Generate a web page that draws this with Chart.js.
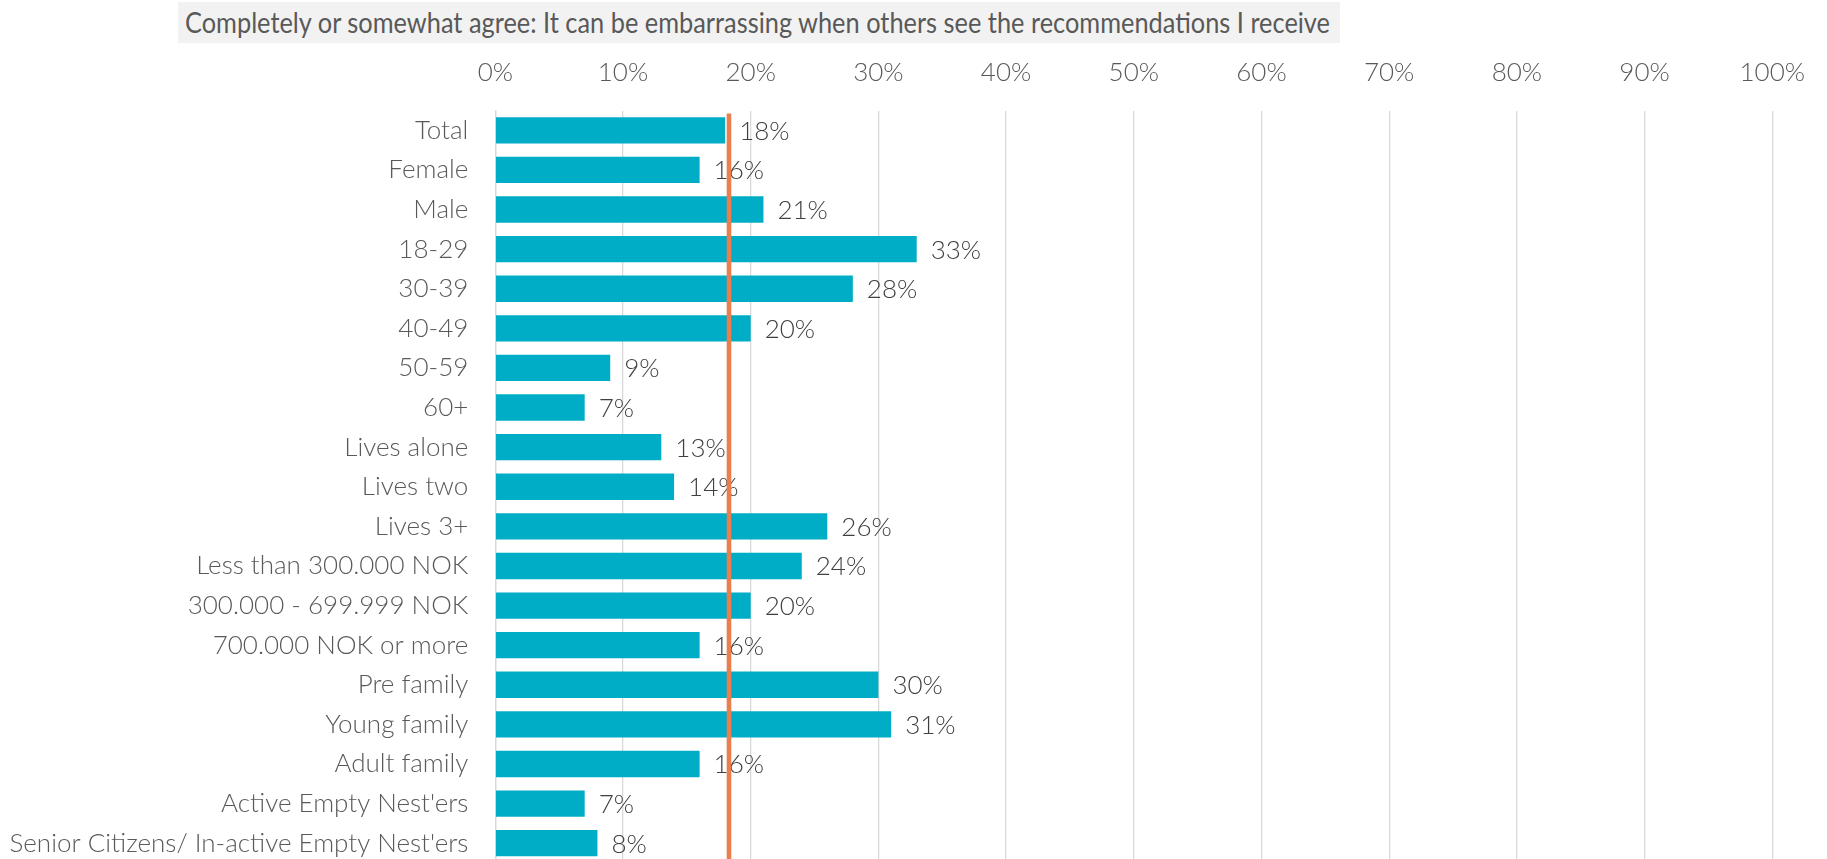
<!DOCTYPE html>
<html>
<head>
<meta charset="utf-8">
<script src="https://cdn.jsdelivr.net/npm/chart.js@4.4.0/dist/chart.umd.min.js"></script>
<style>
  html, body { margin: 0; padding: 0; background: #fff; overflow: hidden; }
  #wrap { position: relative; width: 1827px; height: 863px; }
  #title {
    position: absolute; left: 178px; top: 2px; width: 1162px; height: 41px;
    background: #F2F2F2;
  }
  #title span {
    position: absolute; left: 7px; top: 0; line-height: 41px;
    font-family: Lato, "Open Sans", sans-serif; font-size: 28px; color: #595959;
    white-space: nowrap; transform-origin: left center;
  }
</style>
</head>
<body>
<div id="wrap">
  <canvas id="agreeChart" width="1827" height="863"></canvas>
  <div id="title"><span id="titleText">Completely or somewhat agree: It can be embarrassing when others see the recommendations I receive</span></div>
</div>
<script>
// Segments, top to bottom
const categories = [
  'Total', 'Female', 'Male', '18-29', '30-39', '40-49', '50-59', '60+',
  'Lives alone', 'Lives two', 'Lives 3+',
  'Less than 300.000 NOK', '300.000 - 699.999 NOK', '700.000 NOK or more',
  'Pre family', 'Young family', 'Adult family',
  "Active Empty Nest'ers", "Senior Citizens/ In-active Empty Nest'ers"
];

// Share (%) who completely or somewhat agree
const agreeShare = [18, 16, 21, 33, 28, 20, 9, 7, 13, 14, 26, 24, 20, 16, 30, 31, 16, 7, 8];

// Vertical marker for the overall level
const totalMarker = 18.3;

// Axis range / tick step in percent
const axisMin = 0;
const axisMax = 100;
const axisStep = 10;

const labelFont = { family: 'Lato, "Open Sans", sans-serif', size: 26, weight: 300 };

// value labels to the right of each bar
const barValueLabels = {
  id: 'barValueLabels',
  afterDatasetsDraw(chart) {
    const ctx = chart.ctx;
    const meta = chart.getDatasetMeta(0);
    ctx.save();
    ctx.font = `${labelFont.weight} ${labelFont.size}px ${labelFont.family}`;
    ctx.fillStyle = '#404040';
    ctx.textAlign = 'left';
    ctx.textBaseline = 'middle';
    meta.data.forEach((bar, i) => {
      ctx.fillText(agreeShare[i] + '%', bar.x + 14, bar.y + 1);
    });
    ctx.restore();
  }
};

// orange reference line across all rows
const markerLine = {
  id: 'markerLine',
  afterDatasetsDraw(chart) {
    const { ctx, chartArea, scales } = chart;
    const x = scales.x.getPixelForValue(totalMarker);
    ctx.save();
    ctx.strokeStyle = '#E97E4F';
    ctx.lineWidth = 4.6;
    ctx.beginPath();
    ctx.moveTo(x, chartArea.top + 3);
    ctx.lineTo(x, chartArea.bottom);
    ctx.stroke();
    ctx.restore();
  }
};

new Chart(document.getElementById('agreeChart'), {
  type: 'bar',
  data: {
    labels: categories,
    datasets: [{
      data: agreeShare,
      backgroundColor: '#00ADC6',
      barPercentage: 0.665,
      categoryPercentage: 1
    }]
  },
  options: {
    indexAxis: 'y',
    responsive: false,
    animation: false,
    devicePixelRatio: 1,
    layout: { padding: { left: 0, right: 54.7, top: 0, bottom: 0 } },
    plugins: {
      legend: { display: false },
      tooltip: { enabled: false },
      title: { display: false }
    },
    scales: {
      x: {
        position: 'top',
        min: axisMin,
        max: axisMax,
        ticks: {
          stepSize: axisStep,
          callback: v => v + '%',
          color: '#595959',
          font: labelFont,
          padding: 22
        },
        grid: { color: '#D9D9D9', lineWidth: 1.3, drawTicks: false },
        border: { display: false },
        afterFit: scale => { scale.height = 110.5; }
      },
      y: {
        ticks: {
          color: '#595959',
          font: labelFont,
          padding: 27,
          autoSkip: false
        },
        grid: { display: false, drawTicks: false },
        border: { color: '#D9D9D9', width: 1.3 },
        afterFit: scale => {
          // label spacing shouldn't shrink the plot vertically
          scale.width = 495.3;
          scale.paddingTop = 0;
          scale.paddingBottom = 0;
        }
      }
    }
  },
  plugins: [barValueLabels, markerLine]
});

// squeeze the heading to its box width
const titleSpan = document.getElementById('titleText');
function fitTitle() {
  titleSpan.style.transform = 'none';
  const w = titleSpan.getBoundingClientRect().width;
  titleSpan.style.transform = `scaleX(${1145 / w})`;
}
fitTitle();
if (document.fonts) document.fonts.ready.then(fitTitle);
</script>
</body>
</html>
